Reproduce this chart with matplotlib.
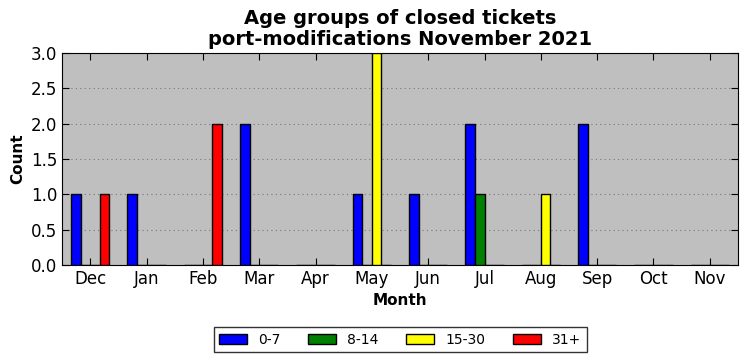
import numpy as np
import matplotlib
matplotlib.use("Agg")
from matplotlib import pyplot as plt

months = ["Dec", "Jan", "Feb", "Mar", "Apr", "May", "Jun", "Jul", "Aug", "Sep", "Oct", "Nov"]
groups = ["0-7", "8-14", "15-30", "31+"]
age_0_7 = [1, 1, 0, 2, 0, 1, 1, 2, 0, 2, 0, 0]
age_8_14 = [0, 0, 0, 0, 0, 0, 0, 1, 0, 0, 0, 0]
age_15_30 = [0, 0, 0, 0, 0, 3, 0, 0, 1, 0, 0, 0]
age_31 = [1, 0, 2, 0, 0, 0, 0, 0, 0, 0, 0, 0]
colors = ["blue", "green", "yellow", "red"]


def main():
    fig = plt.figure(figsize=(7.47, 3.61), dpi=100)
    ax = fig.add_axes([62 / 747, 1 - 265 / 361, 676 / 747, 212 / 361])
    ax.set_facecolor("#bfbfbf")

    x = np.arange(len(months))
    width = 0.17
    series = [age_0_7, age_8_14, age_15_30, age_31]
    for n in range(4):
        ax.bar(x + (n - 1.5) * width, series[n], width, color=colors[n],
               edgecolor="black", linewidth=1, label=groups[n], zorder=3)

    ax.set_xlim(-0.5, 11.5)
    ax.set_ylim(0, 3)
    ax.set_xticks(x)
    ax.set_xticklabels(months)
    ax.set_yticks(np.arange(0, 3.01, 0.5))
    ax.set_yticklabels([f"{v:.1f}" for v in np.arange(0, 3.01, 0.5)])
    ax.tick_params(direction="in", top=True, right=True, labelsize=12, length=5)
    ax.yaxis.grid(True, linestyle=(0, (1, 3)), color="#777777", linewidth=0.8, zorder=0)
    ax.set_axisbelow(True)

    ax.set_title("Age groups of closed tickets\nport-modifications November 2021",
                 fontsize=14, fontweight="bold", linespacing=1.1)
    ax.set_xlabel("Month", fontsize=11, fontweight="bold")
    ax.set_ylabel("Count", fontsize=11, fontweight="bold")

    leg = ax.legend(loc="upper center", bbox_to_anchor=(0.5, -0.26), ncol=4,
                    fontsize=10, fancybox=False, edgecolor="black",
                    handlelength=2.0, handleheight=0.7, handletextpad=0.8,
                    columnspacing=2.0, borderpad=0.4)
    leg.get_frame().set_linewidth(1)

    plt.savefig("out.png", dpi=100)


if __name__ == "__main__":
    main()
